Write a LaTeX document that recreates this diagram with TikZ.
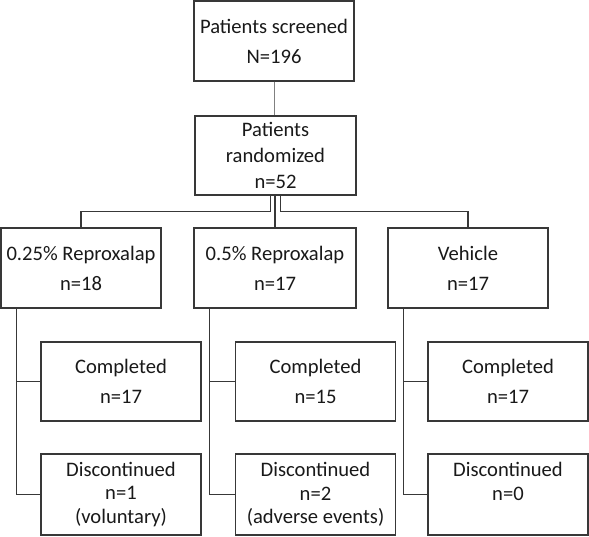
\documentclass[tikz,border=0pt]{standalone}
\usepackage{fontspec}
\setmainfont{Carlito}
\begin{document}
\begin{tikzpicture}[x=1pt,y=1pt,
  box/.style={draw=black!78, line width=1.3pt, inner sep=0pt, align=center, text=black!90, minimum width=160pt, minimum height=80pt},
  fA/.style={font=\fontsize{20.6}{30}\selectfont},
  fB/.style={font=\fontsize{20.6}{26}\selectfont},
  fC/.style={font=\fontsize{20.6}{23.5}\selectfont},
  conn/.style={draw=black!78, line width=1.3pt},
  thin/.style={draw=black!50, line width=1pt}]
\useasboundingbox (0,0) rectangle (589,-537);
\node[box,fA] (s) at (274,-41) {Patients screened\\N=196};
\node[box,fB,minimum width=161pt,minimum height=79pt] (r) at (275.5,-155.5) {Patients\\randomized\\n=52};
\node[box,fA] (a1) at (81,-268) {0.25\% Reproxalap\\n=18};
\node[box,fA,minimum width=162pt] (a2) at (275,-268) {0.5\% Reproxalap\\n=17};
\node[box,fA] (a3) at (468,-268) {Vehicle\\n=17};
\node[box,fA,minimum height=79pt] (c1) at (121,-381.5) {Completed\\n=17};
\node[box,fA,minimum height=79pt] (c2) at (315.5,-381.5) {Completed\\n=15};
\node[box,fA,minimum height=79pt] (c3) at (508,-381.5) {Completed\\n=17};
\node[box,fC,minimum height=81pt] (d1) at (121,-494.5) {Discontinued\\n=1\\(voluntary)};
\node[box,fC,minimum height=81pt] (d2) at (315.5,-494.5) {Discontinued\\n=2\\(adverse events)};
\node[box,fC,minimum height=81pt] (d3) at (508,-494.5) {Discontinued\\n=0\\\phantom{(}};
\draw[thin] (s.south) -- (s.south |- r.north);
\draw[conn] ([xshift=-5pt]r.south) -- ++(0,-16) -| (a1.north);
\draw[conn] (r.south -| a2.north) -- (a2.north);
\draw[conn] ([xshift=5pt]r.south) -- ++(0,-16) -| (a3.north);
\foreach \i in {1,2,3}{
  \draw[conn] ([xshift=16pt]a\i.south west) |- (c\i.west);
  \draw[conn] ([xshift=16pt]a\i.south west) |- (d\i.west);
}
\end{tikzpicture}
\end{document}
